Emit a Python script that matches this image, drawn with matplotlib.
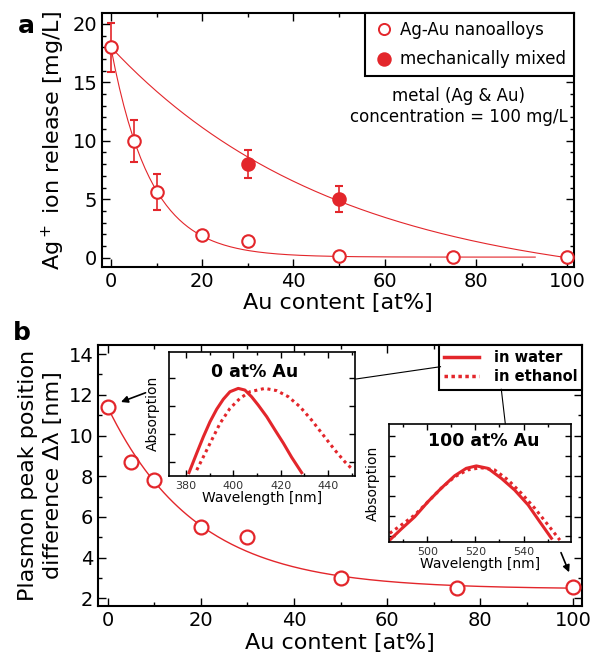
import numpy as np
import matplotlib
matplotlib.use('Agg')
import matplotlib.pyplot as plt
from matplotlib.lines import Line2D
from matplotlib.ticker import MultipleLocator

# ---- data ----
au_content = [0, 5, 10, 20, 30, 50, 75, 100]
ion_release = [18.0, 10.0, 5.6, 1.9, 1.4, 0.15, 0.05, 0.05]
ion_err = [2.1, 1.8, 1.55, 0, 0, 0, 0, 0]

mixed_content = [30, 50]
mixed_release = [8.0, 5.0]
mixed_err = [1.2, 1.1]

peak_shift = [11.4, 8.7, 7.8, 5.5, 5.0, 3.0, 2.5, 2.55]

# exponential fits  y = A*exp(-x/tau) + c
fit_alloy = (17.9, 8.7, 0.05)
fit_mixed = (20.82, 50.0, -2.82)
fit_shift = (8.95, 19.0, 2.45)

# inset spectra, 0 at% Au (arbitrary absorption units)
wl0_water = [381.35, 384.6, 387.4, 390.2, 393.0, 395.8, 398.6, 402.1, 404.9, 407.7,
             410.5, 414.1, 417.6, 421.1, 424.6, 428.8]
abs0_water = [-0.39, 0.31, 0.90, 1.44, 1.89, 2.25, 2.52, 2.64, 2.58, 2.34,
              2.04, 1.62, 1.14, 0.67, 0.16, -0.39]
wl0_eth = [384.6, 387.4, 390.9, 394.4, 398.6, 402.8, 407.0, 413.3, 418.3, 423.2,
           428.1, 433.0, 437.9, 442.8, 447.0, 450.5]
abs0_eth = [-0.30, 0.18, 0.78, 1.38, 1.92, 2.28, 2.52, 2.64, 2.56, 2.34,
            1.98, 1.50, 0.96, 0.42, 0.0, -0.30]

# inset spectra, 100 at% Au
wl100_water = [484.4, 489.2, 494.8, 500.3, 505.8, 511.4, 516.2, 520.4, 525.2, 530.8,
               536.3, 541.9, 546.7, 551.6]
abs100_water = [-0.20, 0.35, 0.96, 1.71, 2.38, 3.00, 3.37, 3.49, 3.37, 2.87,
                2.29, 1.55, 0.72, -0.11]
wl100_eth = [484.4, 489.2, 494.8, 500.3, 505.8, 511.4, 516.8, 522.2, 528.0, 533.6,
             539.1, 544.7, 550.2, 555.1]
abs100_eth = [0.14, 0.55, 1.05, 1.71, 2.38, 2.95, 3.29, 3.40, 3.29, 2.79,
              2.13, 1.38, 0.55, -0.20]

red = '#e3262b'
plt.rcParams['font.family'] = ['DejaVu Sans']

W, H = 593, 660
fig = plt.figure(figsize=(W / 100, H / 100), dpi=100)


def box(l, r, t, b):
    # pixel box -> figure fraction
    return [l / W, 1 - b / H, (r - l) / W, (b - t) / H]


def style(ax, xmaj, xmin, ymaj, ymin, lab=14, lw=1.5):
    ax.xaxis.set_major_locator(MultipleLocator(xmaj))
    ax.xaxis.set_minor_locator(MultipleLocator(xmin))
    ax.yaxis.set_major_locator(MultipleLocator(ymaj))
    ax.yaxis.set_minor_locator(MultipleLocator(ymin))
    ax.tick_params(which='both', direction='in', top=True, right=True, width=1)
    ax.tick_params(which='major', length=6, labelsize=lab)
    ax.tick_params(which='minor', length=3)
    for s in ax.spines.values():
        s.set_linewidth(lw)


def expfit(p, x):
    a, tau, c = p
    return a * np.exp(-x / tau) + c


# ---------------- panel a ----------------
ax1 = fig.add_axes(box(102.3, 574, 13.3, 266.7))
xa = np.linspace(0, 93, 200)
ax1.plot(xa, expfit(fit_alloy, xa), color=red, lw=0.8)
xm = np.linspace(0, 100, 200)
ax1.plot(xm, expfit(fit_mixed, xm), color=red, lw=0.8)

ax1.errorbar(au_content, ion_release, yerr=[e if e > 0 else np.nan for e in ion_err],
             fmt='o', ms=9, mfc='white', mec=red, mew=1.5, ecolor=red,
             elinewidth=1.2, capsize=3, zorder=3)
ax1.errorbar(mixed_content, mixed_release, yerr=mixed_err,
             fmt='o', ms=9, mfc=red, mec=red, mew=1.5, ecolor=red,
             elinewidth=1.2, capsize=3, zorder=3)

ax1.set_xlim(-1.9, 101.5)
ax1.set_ylim(-0.77, 20.9)
style(ax1, 20, 10, 5, 1)
ax1.set_xlabel('Au content [at%]', fontsize=16, labelpad=2)
ax1.set_ylabel(r'Ag$^+$ ion release [mg/L]', fontsize=16, labelpad=4)

h = [Line2D([], [], ls='none', marker='o', ms=8, mfc='white', mec=red, mew=1.4),
     Line2D([], [], ls='none', marker='o', ms=9, mfc=red, mec=red, mew=1.4)]
leg = ax1.legend(h, ['Ag-Au nanoalloys', 'mechanically mixed'], loc='upper right',
                 fontsize=12, frameon=True, fancybox=False,
                 edgecolor='black', framealpha=1, borderaxespad=0, borderpad=0.45,
                 labelspacing=0.7, handletextpad=0.3, handlelength=1.4)
leg.get_frame().set_linewidth(1.5)

ax1.text(0.755, 0.632, 'metal (Ag & Au)\nconcentration = 100 mg/L', transform=ax1.transAxes,
         ha='center', va='center', fontsize=12, linespacing=1.25)
fig.text(26 / W, 1 - 26 / H, 'a', fontsize=18, fontweight='bold', ha='center', va='center')

# ---------------- panel b ----------------
ax2 = fig.add_axes(box(98.3, 582.3, 345, 606))
xb = np.linspace(0, 100, 200)
ax2.plot(xb, expfit(fit_shift, xb), color=red, lw=1.0)
ax2.plot(au_content, peak_shift, 'o', ms=10, mfc='white', mec=red, mew=1.6, zorder=3)
ax2.set_xlim(-2.0, 101.9)
ax2.set_ylim(1.62, 14.45)
style(ax2, 20, 10, 2, 1)
ax2.set_xlabel('Au content [at%]', fontsize=16, labelpad=2)
ax2.set_ylabel('Plasmon peak position\ndifference \u0394\u03bb [nm]', fontsize=16,
               linespacing=1.3, labelpad=4)

leg2 = ax2.legend([Line2D([], [], color=red, lw=2.5),
                   Line2D([], [], color=red, lw=2.5, ls=(0, (1, 1)))],
                  ['in water', 'in ethanol'], loc='upper right',
                  prop={'size': 10.5, 'weight': 'bold'}, frameon=True, fancybox=False,
                  edgecolor='black', framealpha=1, borderaxespad=0, borderpad=0.35,
                  labelspacing=0.3, handletextpad=1.0, handlelength=2.4)
leg2.get_frame().set_linewidth(1.5)

ax2.annotate('', xy=(2.3, 11.6), xytext=(8.7, 12.15),
             arrowprops=dict(arrowstyle='-|>', color='black', lw=1.2, mutation_scale=10))
ax2.annotate('', xy=(99.3, 3.15), xytext=(97.1, 4.37),
             arrowprops=dict(arrowstyle='-|>', color='black', lw=1.2, mutation_scale=10))
fig.text(22 / W, 1 - 333 / H, 'b', fontsize=18, fontweight='bold', ha='center', va='center')

# inset 0 at% Au
ins1 = fig.add_axes(box(169.3, 355.3, 351.7, 475.7))
ins1.plot(wl0_water, abs0_water, color=red, lw=2.2, solid_joinstyle='round')
ins1.plot(wl0_eth, abs0_eth, color=red, lw=2.2, ls=(0, (1, 1.2)))
ins1.set_xlim(373.05, 451.4)
ins1.set_ylim(-0.5, 3.96)
style(ins1, 20, 10, 1, 1, lab=8, lw=1.2)
ins1.tick_params(which='major', length=4, labelcolor='#333333')
ins1.tick_params(which='minor', length=2)
ins1.set_yticklabels([])
ins1.set_xlabel('Wavelength [nm]', fontsize=10, labelpad=0)
ins1.set_ylabel('Absorption', fontsize=10, labelpad=3)
ins1.text(0.46, 0.84, '0 at% Au', transform=ins1.transAxes, ha='center', va='center',
          fontsize=12.5, fontweight='bold')

# inset 100 at% Au
ins2 = fig.add_axes(box(389, 570.7, 423.7, 542.3))
ins2.plot(wl100_water, abs100_water, color=red, lw=2.2, solid_joinstyle='round')
ins2.plot(wl100_eth, abs100_eth, color=red, lw=2.2, ls=(0, (1, 1.2)))
ins2.set_xlim(484.1, 559.6)
ins2.set_ylim(-0.31, 5.59)
style(ins2, 20, 10, 1, 1, lab=8, lw=1.2)
ins2.tick_params(which='major', length=4, labelcolor='#333333')
ins2.tick_params(which='minor', length=2)
ins2.set_yticklabels([])
ins2.set_xlabel('Wavelength [nm]', fontsize=10, labelpad=0)
ins2.set_ylabel('Absorption', fontsize=10, labelpad=3)
ins2.text(0.52, 0.85, '100 at% Au', transform=ins2.transAxes, ha='center', va='center',
          fontsize=12.5, fontweight='bold')

# connector lines from the legend to the insets
for (x1, y1), (x2, y2) in [((356, 379), (440.5, 366.7)), ((501.3, 389.3), (505.3, 423.7))]:
    fig.add_artist(Line2D([x1 / W, x2 / W], [1 - y1 / H, 1 - y2 / H],
                          transform=fig.transFigure, color='black', lw=0.8))

fig.savefig('out.png', dpi=100)
